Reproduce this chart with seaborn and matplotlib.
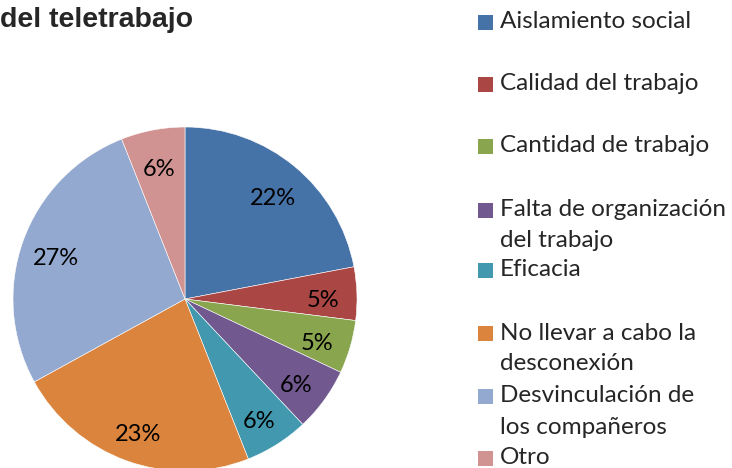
import matplotlib
matplotlib.use("Agg")
import matplotlib.pyplot as plt
from matplotlib.patches import Rectangle
import seaborn as sns

# data
categories = ["Aislamiento social", "Calidad del trabajo", "Cantidad de trabajo",
              "Falta de organización\ndel trabajo", "Eficacia",
              "No llevar a cabo la\ndesconexión", "Desvinculación de\nlos compañeros",
              "Otro"]
shares = [22, 5, 5, 6, 6, 23, 27, 6]
colors = ["#4572A7", "#AA4643", "#89A54E", "#71588F",
          "#4198AF", "#DB843D", "#93A9CF", "#D19392"]

sns.set_style("white")
plt.rcParams["font.family"] = ["Lato", "DejaVu Sans"]

W, H = 732, 468
fig = plt.figure(figsize=(W / 100, H / 100), dpi=100)

# pie: center (185, 299) px, radius 172 px
cx, cy, r = 185, 299, 172
ax = fig.add_axes([(cx - r) / W, (H - cy - r) / H, 2 * r / W, 2 * r / H])
wedges, texts, autotexts = ax.pie(
    shares, colors=colors, startangle=90, counterclock=False,
    autopct="%d%%", pctdistance=0.8,
    wedgeprops=dict(edgecolor="white", linewidth=0.4),
    textprops=dict(fontsize=17, color="black"))
# nudge labels down a little, Excel centres them slightly lower
for t in autotexts:
    x, y = t.get_position()
    t.set_position((x, y - 0.035))
ax.set_xlim(-1, 1)
ax.set_ylim(-1, 1)
ax.set_aspect("equal")
ax.axis("off")

# title (cut off at the left in the original)
fig.text(0, 1 - 20 / H, "del teletrabajo", fontsize=20.5, fontweight="bold",
         family=["Liberation Sans", "DejaVu Sans"], ha="left", va="center")

# legend drawn by hand to keep the uneven spacing
first_line_y = [22, 84, 146, 210, 270, 333, 396, 458]
line_gap = 31
for name, col, y in zip(categories, colors, first_line_y):
    fig.patches.append(Rectangle((478 / W, 1 - (y + 7.5) / H), 15 / W, 15 / H,
                                 transform=fig.transFigure, facecolor=col,
                                 edgecolor="none"))
    for k, line in enumerate(name.split("\n")):
        fig.text(500 / W, 1 - (y + k * line_gap) / H, line, fontsize=17.5,
                 ha="left", va="center")

fig.savefig("out.png", dpi=100)
